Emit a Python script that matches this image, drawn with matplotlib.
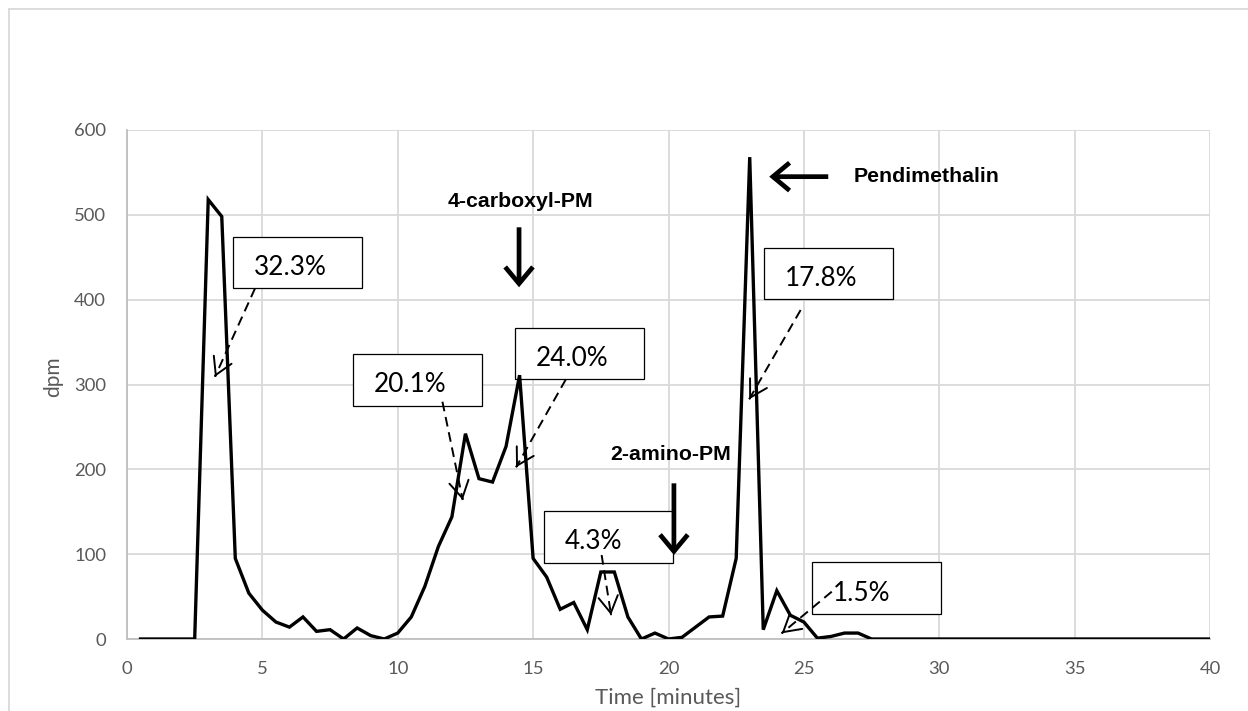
import matplotlib.pyplot as plt
from matplotlib.patches import Rectangle, FancyArrowPatch
from matplotlib.lines import Line2D

# time axis (minutes) and measured activity (dpm)
time_min = [0.5, 1.0, 1.5, 2.0, 2.5, 3.0, 3.5, 4.0, 4.5, 5.0,
            5.5, 6.0, 6.5, 7.0, 7.5, 8.0, 8.5, 9.0, 9.5, 10.0,
            10.5, 11.0, 11.5, 12.0, 12.5, 13.0, 13.5, 14.0, 14.5, 15.0,
            15.5, 16.0, 16.5, 17.0, 17.5, 18.0, 18.5, 19.0, 19.5, 20.0,
            20.5, 21.0, 21.5, 22.0, 22.5, 23.0, 23.5, 24.0, 24.5, 25.0,
            25.5, 26.0, 26.5, 27.0, 27.5, 28.0, 28.5, 29.0, 29.5, 30.0,
            30.5, 31.0, 31.5, 32.0, 32.5, 33.0, 33.5, 34.0, 34.5, 35.0,
            35.5, 36.0, 36.5, 37.0, 37.5, 38.0, 38.5, 39.0, 39.5, 40.0]
dpm = [0, 0, 0, 0, 0, 518, 498, 95, 54, 34,
       20, 14, 26, 9, 11, 0, 13, 4, 0, 7,
       26, 62, 109, 144, 242, 189, 185, 227, 311, 95,
       73, 35, 43, 11, 79, 79, 26, 0, 7, 0,
       2, 14, 26, 27, 95, 568, 11, 57, 28, 20,
       1, 3, 7, 7, 0, 0, 0, 0, 0, 0,
       0, 0, 0, 0, 0, 0, 0, 0, 0, 0,
       0, 0, 0, 0, 0, 0, 0, 0, 0, 0]

x_ticks = [0, 5, 10, 15, 20, 25, 30, 35, 40]
y_ticks = [0, 100, 200, 300, 400, 500, 600]

# peak share labels
pct_labels = ['32.3%', '20.1%', '24.0%', '17.8%', '4.3%', '1.5%']
box_corner = [(3.93, 413.4), (8.34, 275.0), (14.33, 306.1),
              (23.54, 400.4), (15.41, 89.9), (25.30, 29.5)]
pct_arrow_from = [(4.73, 413.4), (11.65, 279.7), (16.21, 306.1),
                  (24.88, 387.8), (17.53, 99.0), (26.03, 55.8)]
pct_arrow_to = [(3.25, 309.2), (12.40, 163.9), (14.37, 202.4),
                (22.98, 282.6), (17.88, 28.3), (24.18, 6.7)]
box_w, box_h = 4.76, 61.0

# compound markers
compounds = ['4-carboxyl-PM', '2-amino-PM', 'Pendimethalin']
compound_xy = [(14.54, 515.5), (20.07, 216.9), (26.82, 545.0)]
compound_ha = ['center', 'center', 'left']
marker_from = [(14.48, 485.3), (20.20, 183.5), (25.90, 545.0)]
marker_to = [(14.48, 414.6), (20.20, 99.0), (23.72, 545.0)]

W, H = 1248, 711
fig = plt.figure(figsize=(W / 100, H / 100), dpi=100)
ax = fig.add_axes([127 / W, 1 - 639 / H, (1210 - 127) / W, (639 - 130) / H])

ax.plot(time_min, dpm, color='black', lw=2.4, zorder=4, solid_joinstyle='miter')

ax.set_xlim(0, 40)
ax.set_ylim(0, 600)
ax.set_xticks(x_ticks)
ax.set_yticks(y_ticks)
ax.grid(True, color='#d9d9d9', lw=1.3, zorder=0)
ax.set_axisbelow(True)
for side in ['top', 'right']:
    ax.spines[side].set_visible(False)
for side in ['left', 'bottom']:
    ax.spines[side].set_color('#bfbfbf')
    ax.spines[side].set_linewidth(1.3)
ax.tick_params(length=0, labelsize=13.3, labelcolor='#595959')
ax.tick_params(axis='y', pad=15)
ax.tick_params(axis='x', pad=16)
for lab in ax.get_xticklabels() + ax.get_yticklabels():
    lab.set_family('Lato')

fig.text(668 / W, 1 - 698 / H, 'Time [minutes]', ha='center', va='center',
         fontsize=16, color='#595959', family='Lato')
fig.text(53 / W, 1 - 377 / H, 'dpm', ha='center', va='center', rotation=90,
         fontsize=15, color='#595959', family='Lato')

# outer chart frame
fig.add_artist(Line2D([9 / W, 1], [1 - 9 / H, 1 - 9 / H], color='#d9d9d9', lw=1.3))
fig.add_artist(Line2D([9 / W, 9 / W], [0, 1 - 9 / H], color='#d9d9d9', lw=1.3))

for lab, (x0, y0), p0, p1 in zip(pct_labels, box_corner, pct_arrow_from, pct_arrow_to):
    ax.add_patch(Rectangle((x0, y0), box_w, box_h, facecolor='white',
                           edgecolor='black', lw=0.9, zorder=3))
    ax.text(x0 + 0.76, y0 + box_h / 2 - 6, lab, ha='left', va='center',
            fontsize=18.8, family='Lato', color='black', zorder=3.5)
    # dashed shaft, solid open head
    ax.plot([p0[0], p1[0]], [p0[1], p1[1]], color='black', lw=1.4,
            linestyle=(0, (5, 3)), zorder=5)
    near = (p1[0] + 0.01 * (p0[0] - p1[0]), p1[1] + 0.01 * (p0[1] - p1[1]))
    ax.add_patch(FancyArrowPatch(near, p1, arrowstyle='->,head_length=0.6,head_width=0.35',
                                 mutation_scale=20, color='black', lw=1.4, zorder=5,
                                 shrinkA=0, shrinkB=0))

for name, (tx, ty), ha, p0, p1 in zip(compounds, compound_xy, compound_ha,
                                       marker_from, marker_to):
    ax.text(tx, ty, name, ha=ha, va='center', fontsize=15.3, fontweight='bold',
            family='Liberation Sans', color='black', zorder=5)
    ax.add_patch(FancyArrowPatch(p0, p1, arrowstyle='->,head_length=0.6,head_width=0.5',
                                 mutation_scale=20, color='black', lw=3.4, zorder=5,
                                 shrinkA=0, shrinkB=0, capstyle='butt', joinstyle='miter'))

fig.savefig('out.png', dpi=100)
